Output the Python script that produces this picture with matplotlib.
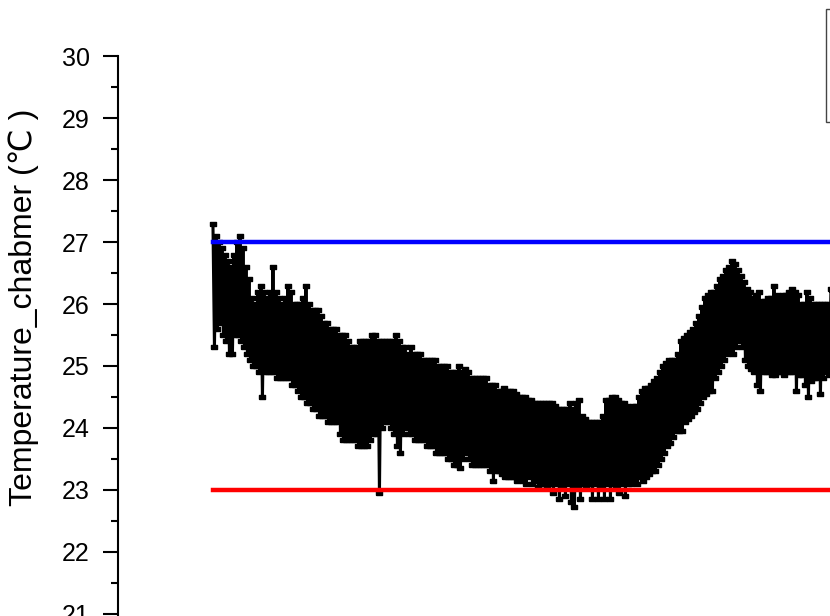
import matplotlib
matplotlib.use("Agg")
import matplotlib.pyplot as plt
from matplotlib.patches import Rectangle
from matplotlib.ticker import MultipleLocator
import numpy as np

plt.rcParams['font.family'] = ['Liberation Sans', 'DejaVu Sans']

# upper and lower edge of the noisy chamber temperature trace, one pair per sample block
hi = [27.3, 27.1, 27.0, 26.9, 26.8, 26.7, 26.6, 26.8, 27.0, 27.1,
      26.9, 26.6, 26.4, 26.1, 26.0, 26.2, 26.3, 26.2, 26.1, 26.2,
      26.6, 26.2, 26.1, 26.0, 26.1, 26.3, 26.2, 26.0, 26.0, 26.0,
      26.1, 26.3, 26.0, 25.9, 25.9, 25.9, 25.8, 25.7, 25.7, 25.6,
      25.6, 25.6, 25.5, 25.5, 25.5, 25.4, 25.3, 25.3, 25.3, 25.4,
      25.4, 25.4, 25.4, 25.5, 25.5, 25.4, 25.4, 25.4, 25.4, 25.4,
      25.4, 25.5, 25.4, 25.3, 25.3, 25.2, 25.3, 25.2, 25.2, 25.2,
      25.1, 25.1, 25.1, 25.1, 25.1, 25.0, 25.0, 25.0, 25.0, 24.9,
      24.9, 24.9, 25.0, 24.9, 24.95, 24.9, 24.8, 24.8, 24.8, 24.8,
      24.8, 24.8, 24.7, 24.7, 24.7, 24.6, 24.6, 24.65, 24.6, 24.6,
      24.6, 24.55, 24.5, 24.5, 24.5, 24.45, 24.45, 24.4, 24.4, 24.4,
      24.4, 24.4, 24.4, 24.4, 24.35, 24.3, 24.3, 24.3, 24.3, 24.4,
      24.3, 24.4, 24.45, 24.2, 24.15, 24.1, 24.1, 24.1, 24.1, 24.1,
      24.2, 24.45, 24.45, 24.5, 24.5, 24.45, 24.4, 24.4, 24.35, 24.3,
      24.35, 24.35, 24.5, 24.6, 24.65, 24.65, 24.7, 24.75, 24.8, 24.9,
      25.0, 25.05, 25.1, 25.1, 25.1, 25.2, 25.4, 25.45, 25.5, 25.55,
      25.6, 25.7, 25.8, 25.95, 26.1, 26.15, 26.2, 26.2, 26.3, 26.4,
      26.45, 26.55, 26.6, 26.7, 26.65, 26.55, 26.45, 26.35, 26.25, 26.2,
      26.1, 26.15, 26.2, 26.05, 26.05, 26.1, 26.1, 26.3, 26.15, 26.1,
      26.15, 26.15, 26.2, 26.25, 26.2, 26.15, 26.0, 26.0, 26.2, 26.1,
      26.0, 26.0, 26.0, 26.0, 26.0, 26.0, 26.25]

lo = [25.3, 25.6, 25.7, 25.5, 25.4, 25.2, 25.2, 25.5, 25.5, 25.4,
      25.3, 25.2, 25.1, 25.0, 25.0, 24.9, 24.5, 24.9, 24.9, 24.9,
      24.9, 24.8, 24.8, 24.8, 24.8, 24.8, 24.7, 24.7, 24.6, 24.5,
      24.5, 24.4, 24.4, 24.3, 24.3, 24.2, 24.2, 24.2, 24.1, 24.1,
      24.1, 24.1, 23.9, 23.8, 23.8, 23.8, 23.8, 23.8, 23.7, 23.7,
      23.7, 23.7, 23.8, 23.9, 23.9, 22.95, 24.0, 24.1, 24.1, 24.0,
      23.9, 23.7, 23.6, 23.9, 24.0, 23.9, 23.9, 23.8, 23.8, 23.8,
      23.8, 23.7, 23.7, 23.7, 23.6, 23.6, 23.6, 23.6, 23.5, 23.5,
      23.4, 23.4, 23.35, 23.5, 23.6, 23.5, 23.4, 23.4, 23.4, 23.4,
      23.4, 23.4, 23.3, 23.15, 23.3, 23.3, 23.25, 23.2, 23.2, 23.2,
      23.2, 23.15, 23.2, 23.15, 23.1, 23.2, 23.1, 23.15, 23.05, 23.1,
      23.1, 23.05, 23.1, 22.95, 23.1, 22.85, 23.05, 22.9, 23.1, 22.8,
      22.72, 23.05, 22.85, 23.1, 23.05, 23.1, 22.85, 23.1, 22.85, 23.05,
      22.85, 23.1, 22.85, 23.1, 23.05, 22.95, 23.1, 22.9, 23.1, 23.1,
      23.15, 23.1, 23.2, 23.15, 23.2, 23.25, 23.3, 23.3, 23.4, 23.5,
      23.6, 23.7, 23.75, 23.85, 23.95, 23.95, 23.95, 24.1, 24.15, 24.2,
      24.25, 24.3, 24.4, 24.5, 24.55, 24.6, 24.6, 24.8, 24.9, 25.0,
      25.1, 25.2, 25.25, 25.2, 25.3, 25.4, 25.3, 25.1, 25.0, 24.95,
      24.9, 24.7, 24.6, 24.9, 24.9, 24.9, 24.85, 24.85, 24.9, 24.9,
      24.85, 24.9, 24.9, 24.9, 24.6, 24.85, 24.85, 24.7, 24.5, 24.75,
      24.8, 24.8, 24.55, 24.8, 24.9, 24.85, 24.9]

upper_limit = 27.0
lower_limit = 23.0
ylabel = "Temperature_chabmer (\u2103 )"

temp = np.column_stack([hi, lo]).ravel()
t = np.arange(len(temp))

fig = plt.figure(figsize=(8.3, 6.16), dpi=100)
# axes run past the right and bottom edge of the picture, as in the cropped original
ax = fig.add_axes([118 / 830, 1 - 675.5 / 616, 900 / 830, 619 / 616])

box = [(-1, -0.6), (1, -0.6), (1, 0.6), (-1, 0.6), (-1, -0.6)]
ax.plot(t, temp, color='black', lw=2.2, marker=box, markersize=5,
        markerfacecolor='black', markeredgecolor='black', zorder=2)
ax.plot([t[0], t[-1]], [upper_limit, upper_limit], color='#0000ff', lw=3.2, zorder=3)
ax.plot([t[0], t[-1]], [lower_limit, lower_limit], color='#ff0000', lw=3.2, zorder=3)

ax.set_ylim(20, 30)
ax.set_xlim(-63.3, 536.7)
ax.yaxis.set_major_locator(MultipleLocator(1))
ax.yaxis.set_minor_locator(MultipleLocator(0.5))
ax.set_xticks([])
for side in ['top', 'right', 'bottom']:
    ax.spines[side].set_visible(False)
ax.spines['left'].set_linewidth(1.5)
ax.tick_params(axis='y', which='major', direction='out', length=10.8, width=1.5,
               pad=9.4, labelsize=18)
ax.tick_params(axis='y', which='minor', direction='out', length=5, width=1.5)

fig.text(24 / 830, 1 - 307 / 616, ylabel, rotation=90, ha='center', va='center',
         fontsize=23)

# legend frame, mostly outside the crop
fig.patches.append(Rectangle((826 / 830, 1 - 122 / 616), 0.1, 113 / 616,
                             transform=fig.transFigure, facecolor='white',
                             edgecolor='#444444', lw=1.0))

fig.savefig("out.png", dpi=100)
